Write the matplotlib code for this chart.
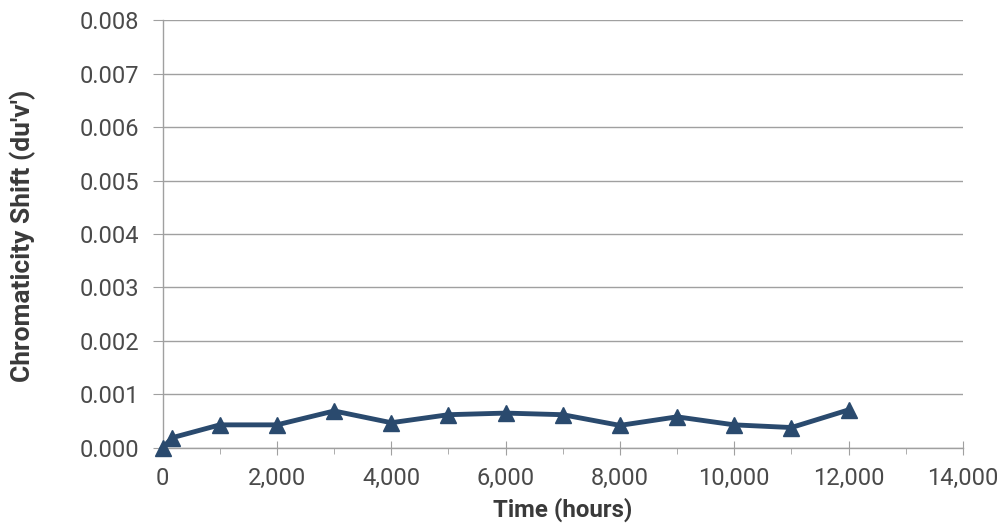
#!/usr/bin/env python3
"""Chromaticity shift vs. time, line with triangle markers."""

import matplotlib
matplotlib.use("Agg")
import matplotlib.pyplot as plt
from matplotlib.ticker import FuncFormatter, MultipleLocator

HOURS = [0, 168, 1000, 2000, 3000, 4000, 5000, 6000, 7000, 8000, 9000, 10000, 11000, 12000]
SHIFT = [0.0, 0.00019, 0.00043, 0.00043, 0.00069, 0.00047, 0.00062, 0.00065,
         0.00062, 0.00042, 0.00058, 0.00043, 0.00038, 0.00071]

LINE_COLOR = "#2A4A6E"
GRID_COLOR = "#A0A0A0"
TEXT_COLOR = "#4A4A4A"
LABEL_COLOR = "#3A3A3A"

plt.rcParams.update({
    "font.family": ["Roboto", "DejaVu Sans"],
    "font.size": 12,
})

fig = plt.figure(figsize=(10.04, 5.30), dpi=100, facecolor="white")
ax = fig.add_axes([0.162, 0.155, 0.797, 0.807])

ax.plot(HOURS, SHIFT, color=LINE_COLOR, linewidth=3.5, marker="^",
        markersize=11, markerfacecolor=LINE_COLOR, markeredgecolor=LINE_COLOR,
        clip_on=False, zorder=3)

ax.set_xlim(0, 14000)
ax.set_ylim(0, 0.008)
ax.xaxis.set_major_locator(MultipleLocator(2000))
ax.xaxis.set_minor_locator(MultipleLocator(1000))
ax.yaxis.set_major_locator(MultipleLocator(0.001))
ax.xaxis.set_major_formatter(FuncFormatter(lambda v, _: f"{int(v):,}"))
ax.yaxis.set_major_formatter(FuncFormatter(lambda v, _: f"{v:.3f}"))

ax.grid(axis="y", color=GRID_COLOR, linewidth=1.0)
ax.set_axisbelow(True)
for side in ("top", "right"):
    ax.spines[side].set_visible(False)
for side in ("left", "bottom"):
    ax.spines[side].set_color(GRID_COLOR)
    ax.spines[side].set_linewidth(1.0)

ax.tick_params(axis="y", direction="out", length=7, color=GRID_COLOR,
               labelcolor=TEXT_COLOR, labelsize=17, pad=10)
ax.tick_params(axis="x", which="major", direction="inout", length=10,
               color=GRID_COLOR, labelcolor=TEXT_COLOR, labelsize=17, pad=9)
ax.tick_params(axis="x", which="minor", direction="out", length=4,
               color=GRID_COLOR)

ax.set_xlabel("Time (hours)", fontsize=17.3, fontweight="bold",
              color=LABEL_COLOR, labelpad=5)
ax.set_ylabel("Chromaticity Shift (du'v')", fontsize=19, fontweight="bold",
              color=LABEL_COLOR)
# label anchor is its right edge (rotated text bottom); centre at y=236 px
ax.yaxis.set_label_coords((36 / 1004 - 0.162) / 0.797, (1 - 236 / 530 - 0.155) / 0.807)

fig.savefig("out.png", dpi=100, facecolor="white")
